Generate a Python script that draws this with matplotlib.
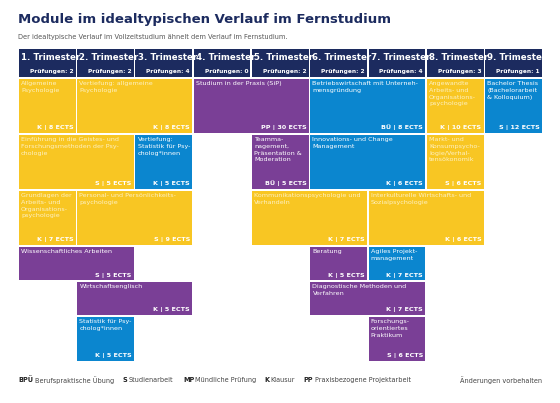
import matplotlib.pyplot as plt
from matplotlib.patches import Rectangle

NAVY = '#1c2b5f'
YELLOW = '#f8c623'
PURPLE = '#7a3f96'
BLUE = '#0b86cf'
colors = {'y': YELLOW, 'p': PURPLE, 'b': BLUE}

trimesters = [f'{i}. Trimester' for i in range(1, 10)]
exams = [2, 2, 4, 0, 2, 2, 4, 3, 1]

# row bands (top, bottom) in pixel units
rows = [(78, 134), (134, 190), (190, 246), (246, 281), (281, 316), (316, 362)]

module_names = [
    'Allgemeine\nPsychologie', 'Vertiefung: allgemeine\nPsychologie', 'Studium in der Praxis (SiP)',
    'Betriebswirtschaft mit Unterneh-\nmensgründung', 'Angewandte\nArbeits- und\nOrganisations-\npsychologie',
    'Bachelor Thesis\n(Bachelorarbeit\n& Kolloquium)',
    'Einführung in die Geistes- und\nForschungsmethoden der Psy-\nchologie', 'Vertiefung:\nStatistik für Psy-\cholog*innen'.replace('\\c', '\nc'),
    'Teamma-\nnagement,\nPräsentation &\nModeration', 'Innovations- und Change\nManagement',
    'Markt- und\nKonsumpsycho-\nlogie/Verhal-\ntensökonomik',
    'Grundlagen der\nArbeits- und\nOrganisations-\npsychologie', 'Personal- und Persönlichkeits-\npsychologie',
    'Kommunikationspsychologie und\nVerhandeln', 'Interkulturelle Wirtschafts- und\nSozialpsychologie',
    'Wissenschaftliches Arbeiten', 'Beratung', 'Agiles Projekt-\nmanagement',
    'Wirtschaftsenglisch', 'Diagnostische Methoden und\nVerfahren',
    'Statistik für Psy-\nchologʼ*innen'.replace('ʼ', ''), 'Forschungs-\norientiertes\nPraktikum',
]
module_exam = ['K', 'K', 'PP', 'BÜ', 'K', 'S', 'S', 'K', 'BÜ', 'K', 'S', 'K', 'S', 'K', 'K',
               'S', 'K', 'K', 'K', 'K', 'K', 'S']
module_ects = [8, 8, 30, 8, 10, 12, 5, 5, 5, 6, 6, 7, 9, 7, 6, 5, 5, 7, 5, 7, 5, 6]
module_col = [0, 1, 3, 5, 7, 8, 0, 2, 4, 5, 7, 0, 1, 4, 6, 0, 5, 6, 1, 5, 1, 6]
module_span = [1, 2, 2, 2, 1, 1, 2, 1, 1, 2, 1, 1, 2, 2, 2, 2, 1, 1, 2, 2, 1, 1]
module_row = [0, 0, 0, 0, 0, 0, 1, 1, 1, 1, 1, 2, 2, 2, 2, 3, 3, 3, 4, 4, 5, 5]
module_color = ['y', 'y', 'p', 'b', 'y', 'b', 'y', 'b', 'p', 'b', 'y', 'y', 'y', 'y', 'y',
                'p', 'p', 'b', 'p', 'p', 'b', 'p']

legend_items = [('BPÜ', 'Berufspraktische Übung'), ('S', 'Studienarbeit'), ('MP', 'Mündliche Prüfung'),
                ('K', 'Klausur'), ('PP', 'Praxisbezogene Projektarbeit')]

X0, CW = 18, 58.3
GAP = 0.8

fig = plt.figure(figsize=(5.6, 4.03), dpi=100)
ax = fig.add_axes([0, 0, 1, 1])
ax.set_xlim(0, 560)
ax.set_ylim(403, 0)
ax.axis('off')

fig.text(18 / 560, 1 - 20 / 403, 'Module im idealtypischen Verlauf im Fernstudium', color=NAVY,
         fontsize=9.5, fontweight='bold', va='center')
fig.text(18 / 560, 1 - 37 / 403, 'Der idealtypische Verlauf im Vollzeitstudium ähnelt dem Verlauf im Fernstudium.',
         color='#555555', fontsize=4.8, va='center')

for i, (t, e) in enumerate(zip(trimesters, exams)):
    x = X0 + i * CW
    ax.add_patch(Rectangle((x + GAP, 48 + GAP), CW - 2 * GAP, 30 - 2 * GAP, color=NAVY, lw=0))
    ax.text(x + 3, 57, t, color='white', fontsize=6.2, fontweight='bold', va='center')
    ax.text(x + CW - 3, 72, f'Prüfungen: {e}', color='white', fontsize=4.2, fontweight='bold',
            va='center', ha='right')

for name, ex, ects, c, s, r, col in zip(module_names, module_exam, module_ects, module_col,
                                         module_span, module_row, module_color):
    top, bot = rows[r]
    x = X0 + c * CW
    w = s * CW
    ax.add_patch(Rectangle((x + GAP, top + GAP), w - 2 * GAP, bot - top - 2 * GAP,
                           color=colors[col], lw=0))
    tc = '#fdf1c4' if col == 'y' else 'white'
    ax.text(x + 3, top + 3, name, color=tc, fontsize=4.6, va='top', ha='left', linespacing=1.45)
    ax.text(x + w - 3, bot - 3.5, f'{ex} | {ects} ECTS', color='white', fontsize=4.6,
            fontweight='bold', va='bottom', ha='right')

lx = 18
for abbr, label in legend_items:
    t1 = ax.text(lx, 380, abbr, fontsize=4.7, fontweight='bold', color='#222222', va='center')
    ax.text(lx + 5.3 * len(abbr) + 1, 380, label, fontsize=4.7, color='#444444', va='center')
    lx += 5.3 * len(abbr) + 1 + 3.6 * len(label) + 8
ax.text(542, 380, 'Änderungen vorbehalten', fontsize=4.7, color='#444444', va='center', ha='right')

fig.savefig('out.png', dpi=100)
